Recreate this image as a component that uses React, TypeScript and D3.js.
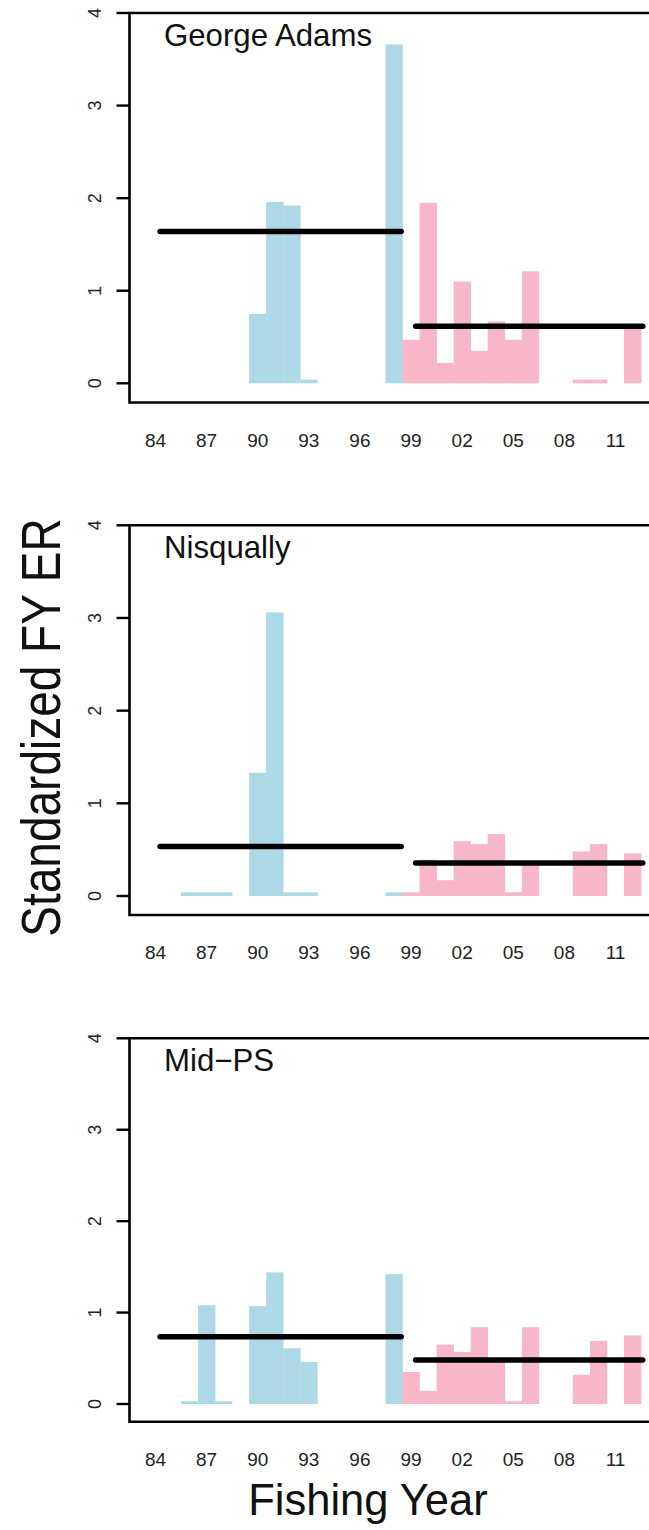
import React from "react";
import * as d3 from "d3";

// ---- data ----
const years = [1984, 1985, 1986, 1987, 1988, 1989, 1990, 1991, 1992, 1993, 1994, 1995, 1996, 1997, 1998,
  1999, 2000, 2001, 2002, 2003, 2004, 2005, 2006, 2007, 2008, 2009, 2010, 2011, 2012];

const georgeAdams = [0, 0, 0, 0, 0, 0, 0.75, 1.96, 1.92, 0.04, 0, 0, 0, 0, 3.66,
  0.47, 1.95, 0.22, 1.10, 0.35, 0.67, 0.47, 1.21, 0, 0, 0.04, 0.04, 0, 0.59];

const nisqually = [0, 0, 0.04, 0.04, 0.04, 0, 1.33, 3.06, 0.04, 0.04, 0, 0, 0, 0, 0.04,
  0.04, 0.39, 0.17, 0.59, 0.56, 0.67, 0.04, 0.37, 0, 0, 0.48, 0.56, 0, 0.46];

const midPS = [0, 0, 0.03, 1.08, 0.03, 0, 1.07, 1.44, 0.61, 0.46, 0, 0, 0, 0, 1.42,
  0.35, 0.145, 0.65, 0.57, 0.84, 0.48, 0.03, 0.84, 0, 0, 0.32, 0.69, 0, 0.75];

const panelNames = ["George Adams", "Nisqually", "Mid\u2212PS"];
const panelSeries = [georgeAdams, nisqually, midPS];

const earlyMeans = [1.64, 0.535, 0.735];
const lateMeans = [0.615, 0.355, 0.48];
const earlySpan = [1984.27, 1998.42];
const lateSpan = [1999.27, 2012.6];
const splitYear = 1998.5;

const xTickYears = [1984, 1987, 1990, 1993, 1996, 1999, 2002, 2005, 2008, 2011];
const yTicks = [0, 1, 2, 3, 4];

// ---- layout ----
const W = 649;
const H = 1530;
const plotLeft = 129.5;
const plotRight = 662;
const panels = [
  { top: 13, zero: 383.3, bottom: 402.5 },
  { top: 525.3, zero: 896, bottom: 915 },
  { top: 1038.3, zero: 1404, bottom: 1421.7 },
];
const BLUE = "#ADD8E6";
const PINK = "#F7B7C8";
const FONT = "'Liberation Sans', Arial, sans-serif";

const x = d3.scaleLinear().domain([1984, 2011]).range([155.5, 615.5]);

function Panel({ idx }: { idx: number }) {
  const p = panels[idx];
  const y = d3.scaleLinear().domain([0, 4]).range([p.zero, p.top]);
  const vals = panelSeries[idx];
  return (
    <g>
      {years.map((yr, i) => {
        const v = vals[i];
        if (!v) return null;
        const x0 = x(yr - 0.5);
        const x1 = x(yr + 0.5);
        return (
          <rect key={yr} x={x0} y={y(v)} width={x1 - x0 + 0.3} height={y(0) - y(v)}
            fill={yr < splitYear ? BLUE : PINK} />
        );
      })}
      {/* mean lines */}
      <line x1={x(earlySpan[0])} x2={x(earlySpan[1])} y1={y(earlyMeans[idx])} y2={y(earlyMeans[idx])}
        stroke="#000" strokeWidth={5.5} strokeLinecap="round" />
      <line x1={x(lateSpan[0])} x2={x(lateSpan[1])} y1={y(lateMeans[idx])} y2={y(lateMeans[idx])}
        stroke="#000" strokeWidth={5.5} strokeLinecap="round" />
      {/* box */}
      <path d={`M${plotRight},${p.top}H${plotLeft}V${p.bottom}H${plotRight}`} fill="none" stroke="#000" strokeWidth={2.6} />
      {/* y ticks */}
      {yTicks.map((t) => (
        <g key={t}>
          <line x1={116.5} x2={plotLeft} y1={y(t)} y2={y(t)} stroke="#000" strokeWidth={2.4} />
          <text transform={`translate(100.5,${y(t)}) rotate(-90)`} textAnchor="middle" fontSize={18}
            fontFamily={FONT} fill="#222">{t}</text>
        </g>
      ))}
      {/* x tick labels */}
      {xTickYears.map((yr) => (
        <text key={yr} x={x(yr)} y={p.bottom + 44} textAnchor="middle" fontSize={19}
          fontFamily={FONT} fill="#222">{String(yr % 100).padStart(2, "0")}</text>
      ))}
      <text x={164} y={p.top + 32.5} fontSize={31.2} fontFamily={FONT} fill="#111">{panelNames[idx]}</text>
    </g>
  );
}

export default function App() {
  return (
    <svg width={W} height={H} style={{ position: "absolute", left: 0, top: 0, background: "#fff" }}>
      <rect x={0} y={0} width={W} height={H} fill="#fff" />
      {panels.map((_, i) => <Panel key={i} idx={i} />)}
      <text transform="translate(59.5,727.5) rotate(-90) scale(1,1.22)" textAnchor="middle" fontSize={46}
        fontFamily={FONT} fill="#111">Standardized FY ER</text>
      <text x={368} y={1515} textAnchor="middle" fontSize={43.5} fontFamily={FONT} fill="#111">Fishing Year</text>
    </svg>
  );
}
